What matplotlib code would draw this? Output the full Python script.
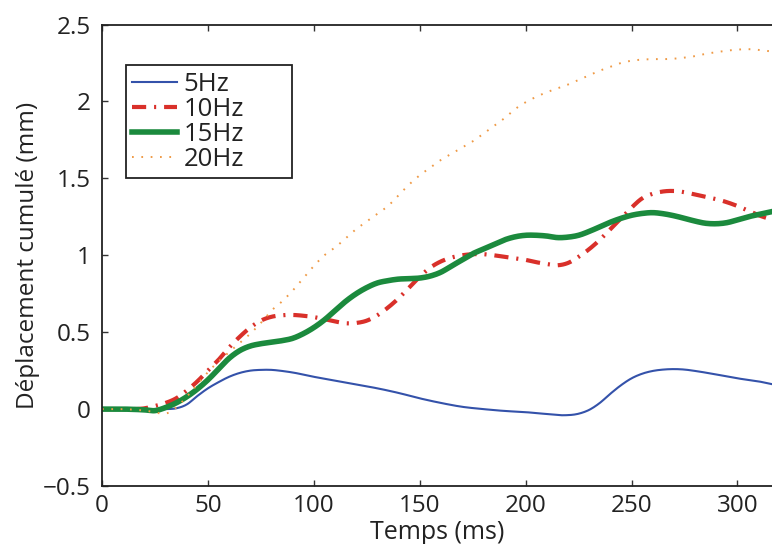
import numpy as np
import matplotlib
matplotlib.use("Agg")
import matplotlib.pyplot as plt

plt.rcParams['font.family'] = ['Open Sans', 'DejaVu Sans']

# temps (ms) et déplacement cumulé (mm)
t_5 = [0, 10, 20, 30, 35, 40, 45, 50, 55, 60, 65, 70, 75, 80, 85, 90, 100, 110, 120, 130,
       140, 150, 160, 170, 180, 190, 200, 210, 218, 225, 230, 235, 240, 245, 250, 255, 260,
       265, 270, 275, 280, 290, 300, 310, 316]
d_5 = [0, 0, 0, 0, 0.005, 0.03, 0.085, 0.135, 0.175, 0.21, 0.235, 0.25, 0.255, 0.255, 0.248,
       0.238, 0.21, 0.185, 0.16, 0.135, 0.105, 0.07, 0.04, 0.015, 0.0, -0.012, -0.02, -0.032,
       -0.04, -0.03, -0.005, 0.04, 0.1, 0.155, 0.2, 0.23, 0.248, 0.257, 0.26, 0.257, 0.248,
       0.225, 0.2, 0.18, 0.163]

t_10 = [0, 10, 20, 25, 30, 35, 40, 45, 50, 55, 60, 65, 70, 75, 80, 85, 90, 95, 100, 105, 110,
        115, 120, 125, 130, 135, 140, 145, 150, 155, 160, 165, 170, 175, 180, 185, 190, 195,
        200, 205, 210, 215, 220, 225, 230, 235, 240, 245, 250, 255, 260, 265, 270, 275, 280,
        285, 290, 295, 300, 305, 310, 316]
d_10 = [0, 0, 0.005, 0.02, 0.04, 0.07, 0.12, 0.18, 0.25, 0.32, 0.40, 0.47, 0.53, 0.575, 0.60,
        0.61, 0.612, 0.607, 0.598, 0.585, 0.57, 0.558, 0.56, 0.575, 0.61, 0.66, 0.72, 0.79,
        0.86, 0.92, 0.96, 0.985, 1.0, 1.007, 1.007, 1.0, 0.99, 0.98, 0.97, 0.955, 0.943,
        0.935, 0.95, 0.99, 1.04, 1.10, 1.17, 1.24, 1.31, 1.37, 1.40, 1.415, 1.418, 1.41,
        1.395, 1.38, 1.365, 1.345, 1.32, 1.29, 1.26, 1.233]

t_15 = [0, 10, 20, 25, 30, 35, 40, 45, 50, 55, 60, 65, 70, 75, 80, 85, 90, 95, 100, 105, 110,
        115, 120, 125, 130, 135, 140, 145, 150, 155, 160, 165, 170, 175, 180, 185, 190, 195,
        200, 205, 210, 215, 220, 225, 230, 235, 240, 245, 250, 255, 260, 265, 270, 275, 280,
        285, 290, 295, 300, 305, 310, 316]
d_15 = [0, 0, -0.005, -0.01, 0.01, 0.04, 0.08, 0.13, 0.19, 0.26, 0.33, 0.38, 0.41, 0.425,
        0.435, 0.445, 0.46, 0.49, 0.53, 0.58, 0.64, 0.70, 0.75, 0.79, 0.82, 0.835, 0.845,
        0.848, 0.852, 0.865, 0.89, 0.93, 0.97, 1.01, 1.04, 1.07, 1.10, 1.12, 1.13, 1.13,
        1.125, 1.115, 1.118, 1.13, 1.155, 1.185, 1.215, 1.24, 1.26, 1.272, 1.277, 1.27,
        1.257, 1.24, 1.222, 1.208, 1.205, 1.212, 1.23, 1.25, 1.265, 1.283]

t_20 = [0, 10, 20, 25, 28, 32, 35, 40, 45, 50, 55, 60, 65, 70, 75, 80, 85, 90, 95, 100, 105,
        110, 115, 120, 125, 130, 135, 140, 145, 150, 155, 160, 165, 170, 175, 180, 185, 190,
        195, 200, 205, 210, 215, 220, 225, 230, 235, 240, 245, 250, 255, 260, 265, 270, 275,
        280, 285, 290, 295, 300, 305, 310, 316]
d_20 = [0, 0, -0.01, -0.02, -0.03, -0.02, 0.01, 0.08, 0.16, 0.24, 0.31, 0.37, 0.43, 0.49,
        0.56, 0.64, 0.70, 0.77, 0.85, 0.93, 1.0, 1.05, 1.11, 1.17, 1.22, 1.27, 1.32, 1.39,
        1.46, 1.52, 1.57, 1.62, 1.66, 1.70, 1.74, 1.79, 1.84, 1.89, 1.95, 1.995, 2.03, 2.06,
        2.085, 2.11, 2.14, 2.17, 2.20, 2.225, 2.25, 2.265, 2.272, 2.275, 2.275, 2.278, 2.285,
        2.295, 2.31, 2.32, 2.33, 2.337, 2.34, 2.335, 2.325]

labels = ['5Hz', '10Hz', '15Hz', '20Hz']


def smooth(t, d):
    # courbe lisse passant par les points lus (interpolation cubique par morceaux)
    t = np.asarray(t, float)
    d = np.asarray(d, float)
    tt = np.linspace(t[0], t[-1], 800)
    m = np.gradient(d, t)
    idx = np.clip(np.searchsorted(t, tt) - 1, 0, len(t) - 2)
    h = t[idx + 1] - t[idx]
    s = (tt - t[idx]) / h
    h00 = 2*s**3 - 3*s**2 + 1
    h10 = s**3 - 2*s**2 + s
    h01 = -2*s**3 + 3*s**2
    h11 = s**3 - s**2
    return tt, h00*d[idx] + h10*h*m[idx] + h01*d[idx+1] + h11*h*m[idx+1]


fs = 17.5
fig = plt.figure(figsize=(7.72, 5.44), dpi=100)
ax = fig.add_axes([0.1321, 0.1066, 0.8679, 0.8483])

ax.plot(*smooth(t_5, d_5), color='#3452aa', lw=1.5, label=labels[0])
ax.plot(*smooth(t_10, d_10), color='#d9302a', lw=3.0,
        linestyle=(0, (3.4, 1.9, 0.5, 1.9)), dash_capstyle='butt', label=labels[1])
ax.plot(*smooth(t_15, d_15), color='#1b8a3d', lw=4.0, label=labels[2])
ax.plot(*smooth(t_20, d_20), color='#ef9a46', lw=1.4,
        linestyle=(0, (0.9, 3.9)), dash_capstyle='butt', label=labels[3])

ax.set_xlim(0, 316.3)
ax.set_ylim(-0.5, 2.5)
ax.set_xticks([0, 50, 100, 150, 200, 250, 300])
ax.set_yticks([-0.5, 0, 0.5, 1, 1.5, 2, 2.5])
ax.set_yticklabels(['\u22120.5', '0', '0.5', '1', '1.5', '2', '2.5'])

for side in ['left', 'bottom', 'top']:
    ax.spines[side].set_linewidth(1.3)
    ax.spines[side].set_color('#222222')
ax.spines['right'].set_visible(False)
ax.tick_params(direction='in', length=4, width=1, colors='#333333', labelcolor='#222222',
               labelsize=fs, top=True, right=False)
ax.tick_params(axis='y', pad=8)
ax.tick_params(axis='x', pad=6)

ax.set_xlabel('Temps (ms)', fontsize=18, color='#222222', labelpad=1)
ax.set_ylabel('Déplacement cumulé (mm)', fontsize=fs, color='#222222', labelpad=2)

# boîte de légende étirée à la largeur de l'original
leg = ax.legend(loc='upper left', bbox_to_anchor=(0.0354, 0.67, 0.2478, 0.242),
                mode='expand', borderaxespad=0,
                fontsize=18.5, handlelength=1.75, handletextpad=0.25, labelspacing=0.0,
                borderpad=0.25, fancybox=False, framealpha=1)
leg.get_frame().set_edgecolor('#222222')
leg.get_frame().set_linewidth(1.3)
for txt in leg.get_texts():
    txt.set_color('#222222')

fig.savefig('out.png', dpi=100)
